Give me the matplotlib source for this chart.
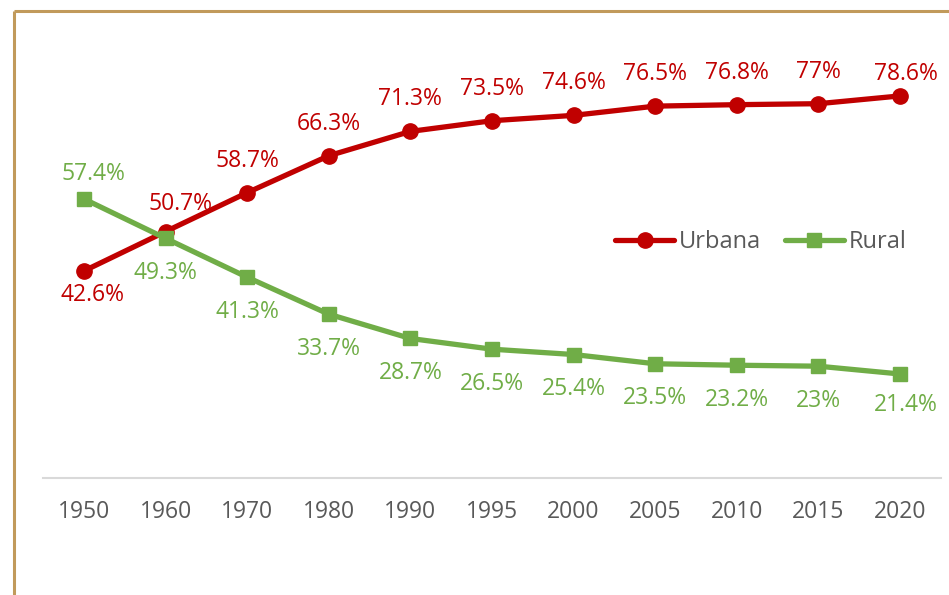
import matplotlib
matplotlib.use("Agg")
import matplotlib.pyplot as plt
from matplotlib.lines import Line2D

plt.rcParams['font.family'] = ['Open Sans', 'DejaVu Sans']

years = ['1950', '1960', '1970', '1980', '1990', '1995', '2000', '2005', '2010', '2015', '2020']
urbana = [42.6, 50.7, 58.7, 66.3, 71.3, 73.5, 74.6, 76.5, 76.8, 77, 78.6]
rural = [57.4, 49.3, 41.3, 33.7, 28.7, 26.5, 25.4, 23.5, 23.2, 23, 21.4]
urbana_labels = ['42.6%', '50.7%', '58.7%', '66.3%', '71.3%', '73.5%', '74.6%', '76.5%', '76.8%', '77%', '78.6%']
rural_labels = ['57.4%', '49.3%', '41.3%', '33.7%', '28.7%', '26.5%', '25.4%', '23.5%', '23.2%', '23%', '21.4%']

RED = '#C00000'
GREEN = '#70AD47'
GRAY = '#595959'

W, H = 949, 595
fig = plt.figure(figsize=(W / 100, H / 100), dpi=100)
ax = fig.add_axes([43.2 / W, 117 / H, (940.8 - 43.2) / W, (478 - 16.2) / H])

x = list(range(len(years)))
ax.plot(x, urbana, color=RED, lw=3.8, marker='o', ms=11, label='Urbana', zorder=3,
        solid_capstyle='round')
ax.plot(x, rural, color=GREEN, lw=3.8, marker='s', ms=10.5, label='Rural', zorder=3,
        solid_capstyle='round')

fs_lab = 16.5
for i, (v, t) in enumerate(zip(urbana, urbana_labels)):
    if i == 0:
        off = (6, -17.5)
    elif i == 1:
        off = (11, 19.5)
    elif i == len(years) - 1:
        off = (4, 16)
    else:
        off = (0, 23)
    ax.annotate(t, (i, v), xytext=off, textcoords='offset points', ha='center', va='center',
                color=RED, fontsize=fs_lab, zorder=4)
for i, (v, t) in enumerate(zip(rural, rural_labels)):
    if i == 0:
        off = (7, 18)
    elif i == len(years) - 1:
        off = (4, -22)
    else:
        off = (0, -25)
    ax.annotate(t, (i, v), xytext=off, textcoords='offset points', ha='center', va='center',
                color=GREEN, fontsize=fs_lab, zorder=4)

ax.set_xlim(-0.5, len(years) - 0.5)
ax.set_ylim(0, 95)
ax.set_xticks(x)
ax.set_xticklabels(years)
ax.tick_params(axis='x', length=0, pad=16, labelsize=16.5, labelcolor=GRAY)
ax.set_yticks([])
for s in ['top', 'right', 'left']:
    ax.spines[s].set_visible(False)
ax.spines['bottom'].set_color('#D9D9D9')
ax.spines['bottom'].set_linewidth(1.5)

handles = [
    Line2D([], [], color=RED, lw=3.8, marker='o', ms=11, solid_capstyle='round'),
    Line2D([], [], color=GREEN, lw=3.8, marker='s', ms=10.5, solid_capstyle='round'),
]
leg = ax.legend(handles, ['Urbana', 'Rural'], loc='center', bbox_to_anchor=(761 / W, (595 - 242) / H),
                bbox_transform=fig.transFigure, ncol=2, frameon=False, fontsize=17,
                handlelength=2.5, handletextpad=0.2, columnspacing=1.0, borderpad=0)
for t in leg.get_texts():
    t.set_color(GRAY)

# tan border on left and top
BORDER = '#C19A5B'
fig.add_artist(Line2D([14 / W, 14 / W], [0, (595 - 11) / H], color=BORDER, lw=2.2,
                      transform=fig.transFigure, solid_capstyle='butt'))
fig.add_artist(Line2D([14 / W, 1], [(595 - 11) / H, (595 - 11) / H], color=BORDER, lw=2.2,
                      transform=fig.transFigure, solid_capstyle='butt'))

fig.savefig('out.png', dpi=100)
